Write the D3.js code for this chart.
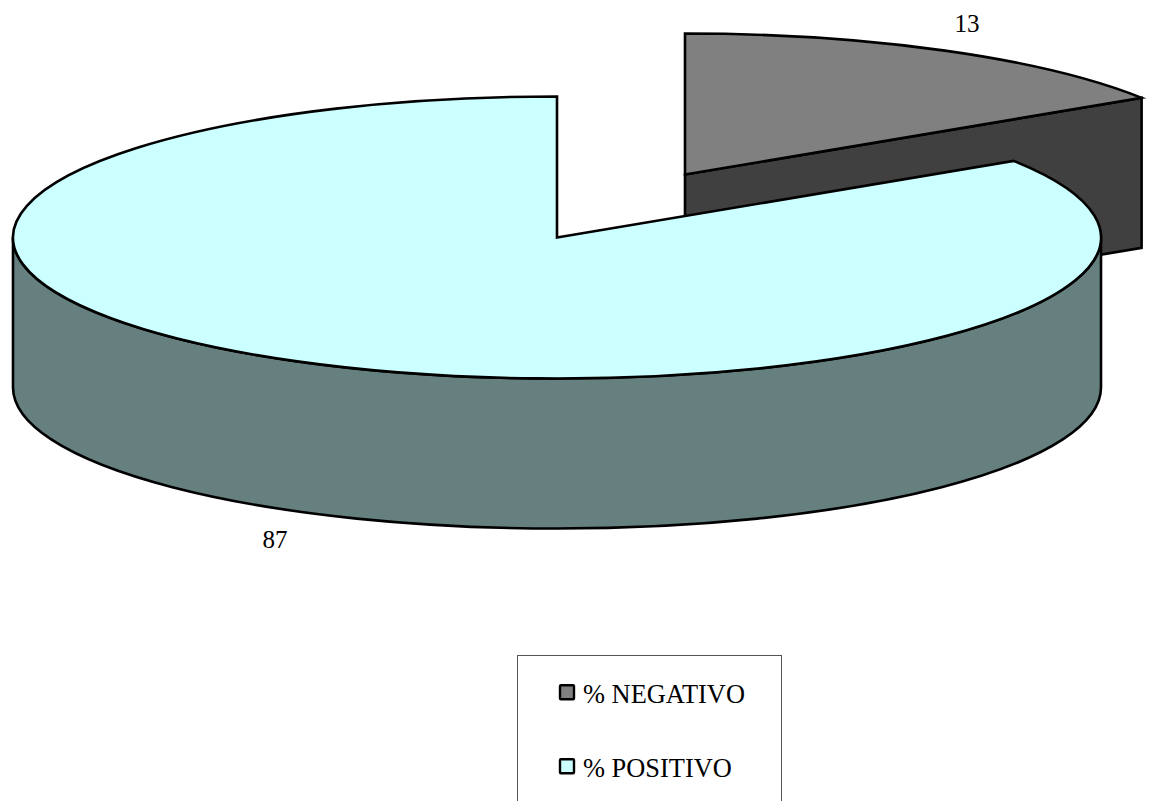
<!DOCTYPE html>
<html>
<head>
<meta charset="utf-8">
<script src="https://cdn.jsdelivr.net/npm/d3@7/dist/d3.min.js"></script>
<style>
  html, body { margin: 0; padding: 0; background: #fff; overflow: hidden; }
  svg { display: block; }
  text { font-family: "Liberation Serif", "Times New Roman", serif; fill: #000; }
</style>
</head>
<body>
<svg id="chart" width="1152" height="801"></svg>
<script>
// Survey result shares, in slice order starting at twelve o'clock
const categories = ["% NEGATIVO", "% POSITIVO"];
const values = [13, 87];
const topColors = ["#808080", "#CCFFFF"];
const sideColors = ["#404040", "#667F7F"];

// Layout of the tilted disc
const center = { x: 557, y: 237.5 };
const radiusX = 544, radiusY = 141;
const depth = 150;
const explode = [{ dx: 128, dy: -63 }, { dx: 0, dy: 0 }];
const perspective = 1.45; // widens the near-horizontal part of the disc's angular range

const svg = d3.select("#chart");

const slices = d3.pie().sort(null).value(d => d).startAngle(0).endAngle(2 * Math.PI)(values);

// Unit-circle coordinates mapped on to the page
const sx = d3.scaleLinear().domain([-1, 1]).range([center.x - radiusX, center.x + radiusX]);
const sy = d3.scaleLinear().domain([-1, 1]).range([center.y + radiusY, center.y - radiusY]);

function warp(a) {
  if (a >= 2 * Math.PI - 1e-9) return 2 * Math.PI;
  const t = Math.atan2(perspective * Math.sin(a), Math.cos(a));
  return t < 0 ? t + 2 * Math.PI : t;
}
const rim = (t, off, drop = 0) => [sx(Math.sin(t)) + off.dx, sy(Math.cos(t)) + off.dy + drop];
const hub = (off, drop = 0) => [center.x + off.dx, center.y + off.dy + drop];

function topPath(slice, off) {
  const t0 = warp(slice.startAngle), t1 = warp(slice.endAngle);
  const p0 = rim(t0, off), p1 = rim(t1, off), c = hub(off);
  const large = t1 - t0 > Math.PI ? 1 : 0;
  return `M${c}L${p0}A${radiusX},${radiusY} 0 ${large} 1 ${p1}Z`;
}

// Flat inner wall running from the hub out along one slice edge
function wallPath(t, off) {
  const c = hub(off), p = rim(t, off);
  return `M${c}L${p}L${rim(t, off, depth)}L${hub(off, depth)}Z`;
}

// Curved outer wall along the front half of the rim
function frontPath(off) {
  const right = rim(Math.PI / 2, off), left = rim(3 * Math.PI / 2, off);
  const rightLow = rim(Math.PI / 2, off, depth), leftLow = rim(3 * Math.PI / 2, off, depth);
  return `M${right}A${radiusX},${radiusY} 0 0 1 ${left}L${leftLow}A${radiusX},${radiusY} 0 0 0 ${rightLow}Z`;
}

const pie3d = svg.append("g")
  .attr("stroke", "#000").attr("stroke-width", 2.6).attr("stroke-linejoin", "miter");

// The detached slice sits behind the main one
pie3d.append("path")
  .attr("d", wallPath(warp(slices[0].endAngle), explode[0]))
  .attr("fill", sideColors[0]);
pie3d.append("path")
  .attr("d", topPath(slices[0], explode[0]))
  .attr("fill", topColors[0]);

pie3d.append("path")
  .attr("d", frontPath(explode[1]))
  .attr("fill", sideColors[1]);
pie3d.append("path")
  .attr("d", topPath(slices[1], explode[1]))
  .attr("fill", topColors[1]);

// Value labels
const valueLabels = [{ x: 967, y: 31.5 }, { x: 275, y: 548 }];
svg.append("g").selectAll("text").data(values).join("text")
  .attr("x", (d, i) => valueLabels[i].x)
  .attr("y", (d, i) => valueLabels[i].y)
  .attr("text-anchor", "middle")
  .attr("font-size", 25)
  .text(d => d);

// Legend box runs off the bottom edge of the page
svg.append("rect")
  .attr("x", 517.5).attr("y", 655.5)
  .attr("width", 264).attr("height", 200)
  .attr("fill", "#fff").attr("stroke", "#555").attr("stroke-width", 1);

const legendY = d3.scalePoint().domain(categories).range([703, 777]);
const legend = svg.append("g").selectAll("g").data(categories).join("g")
  .attr("transform", d => `translate(0,${legendY(d)})`);
legend.append("rect")
  .attr("x", 560).attr("y", -17.8)
  .attr("width", 14).attr("height", 14).attr("rx", 1)
  .attr("fill", (d, i) => topColors[i])
  .attr("stroke", "#000").attr("stroke-width", 2.4);
legend.append("text")
  .attr("x", 583).attr("y", 0)
  .attr("font-size", 26.4)
  .text(d => d);
</script>
</body>
</html>
